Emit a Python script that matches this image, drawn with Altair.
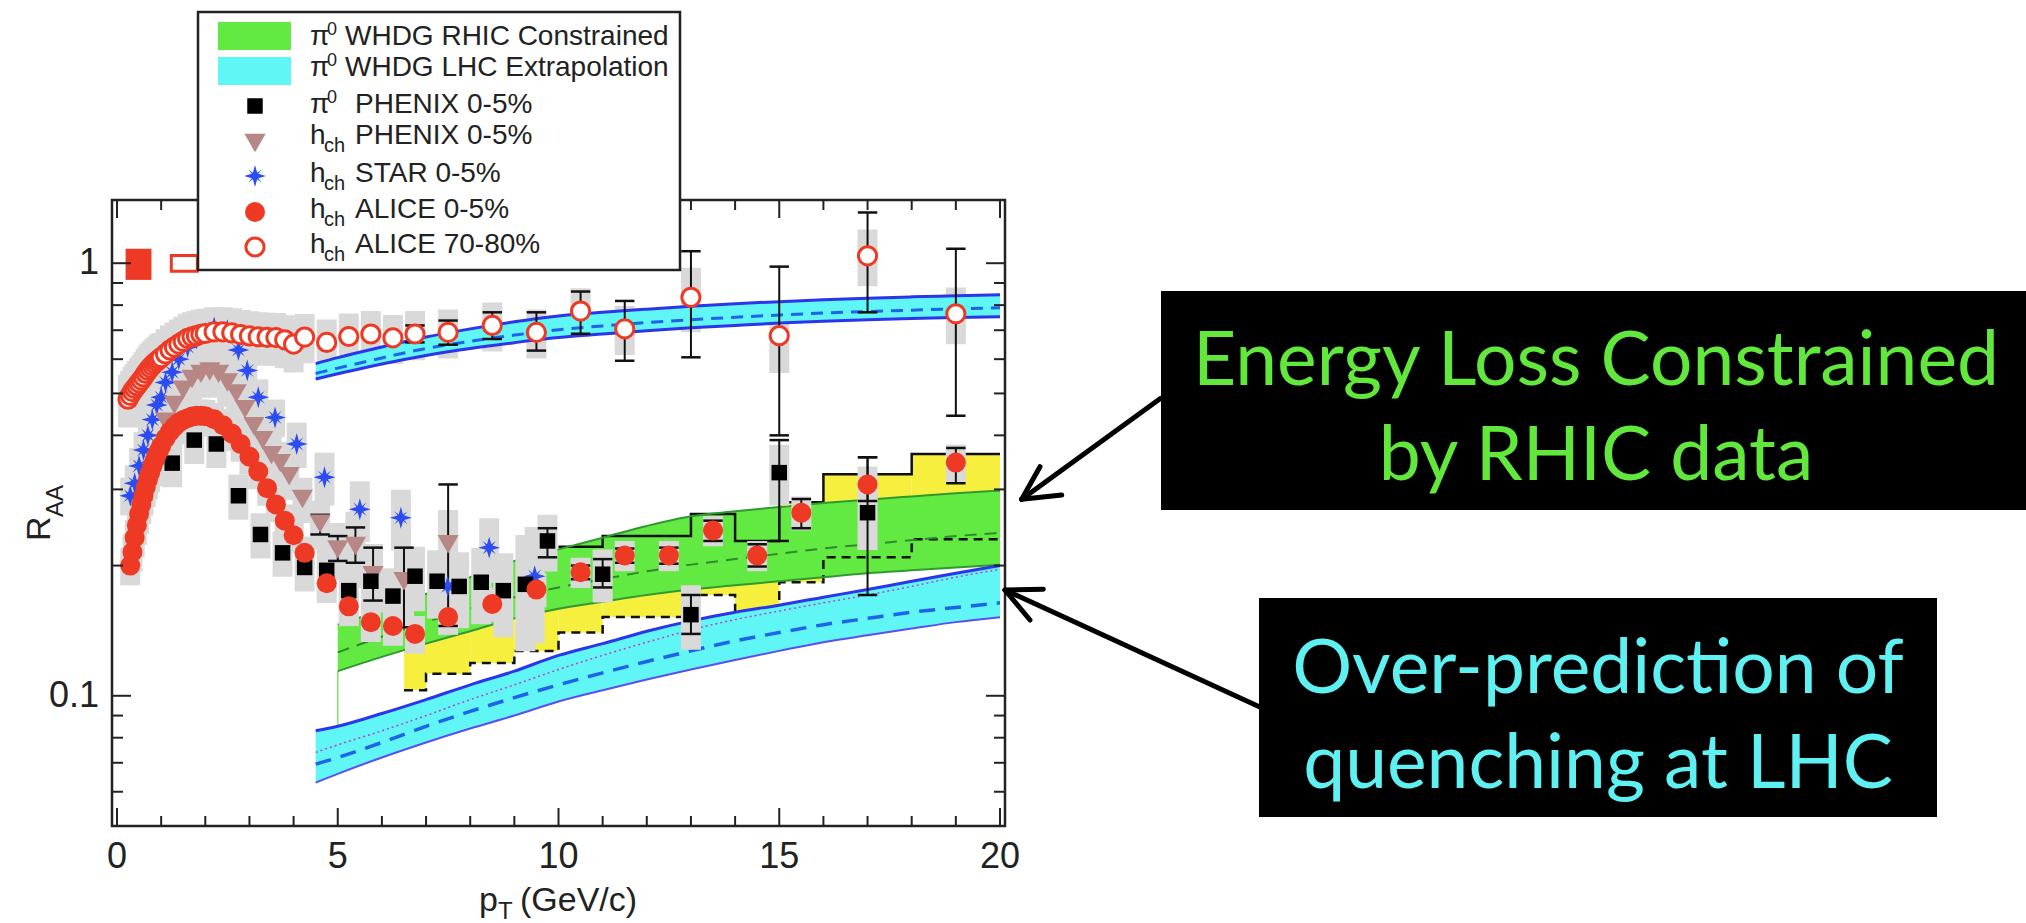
import altair as alt
import pandas as pd

FONT = "Liberation Sans, Arial, Helvetica, sans-serif"
ANN_FONT = "Lato, Open Sans, sans-serif"

# ---------------- data ----------------
# h_ch ALICE 0-5 %
alice_c_pt = [0.3, 0.35, 0.4, 0.45, 0.5, 0.55, 0.6, 0.65, 0.7, 0.75, 0.8, 0.85, 0.9, 0.95, 1.0,
              1.1, 1.2, 1.3, 1.4, 1.5, 1.6, 1.7, 1.8, 1.9, 2.0,
              2.2, 2.4, 2.6, 2.8, 3.0, 3.2, 3.4, 3.6, 3.8, 4.0,
              4.25, 4.75, 5.25, 5.75, 6.25, 6.75, 7.5, 8.5, 9.5,
              10.5, 11.5, 12.5, 13.5, 14.5, 15.5, 17.0, 19.0]
alice_c_val = [0.200, 0.215, 0.232, 0.248, 0.263, 0.277, 0.290, 0.303, 0.316, 0.328, 0.339, 0.350, 0.360, 0.369, 0.378,
               0.394, 0.408, 0.419, 0.428, 0.434, 0.438, 0.442, 0.444, 0.444, 0.443,
               0.436, 0.422, 0.404, 0.382, 0.357, 0.330, 0.302, 0.277, 0.254, 0.235,
               0.214, 0.182, 0.161, 0.148, 0.145, 0.139, 0.152, 0.163, 0.176,
               0.193, 0.211, 0.211, 0.241, 0.211, 0.265, 0.308, 0.346]
alice_c_sys = [0.10, 0.10, 0.10, 0.10, 0.10, 0.10, 0.10, 0.10, 0.10, 0.10, 0.10, 0.10, 0.10, 0.10, 0.10,
               0.09, 0.09, 0.09, 0.09, 0.09, 0.09, 0.09, 0.09, 0.09, 0.09,
               0.09, 0.09, 0.09, 0.09, 0.09, 0.09, 0.09, 0.09, 0.09, 0.09,
               0.09, 0.10, 0.10, 0.10, 0.10, 0.10, 0.09, 0.09, 0.09,
               0.08, 0.08, 0.08, 0.08, 0.08, 0.09, 0.10, 0.10]
alice_c_err_pt = [10.5, 11.5, 12.5, 13.5, 14.5, 15.5, 17.0, 19.0]
alice_c_err_lo = [0.186, 0.203, 0.202, 0.228, 0.199, 0.244, 0.282, 0.310]
alice_c_err_hi = [0.200, 0.219, 0.220, 0.254, 0.224, 0.285, 0.356, 0.374]

# h_ch ALICE 70-80 %
alice_p_pt = [0.25, 0.3, 0.35, 0.4, 0.45, 0.5, 0.55, 0.6, 0.65, 0.7, 0.75, 0.8, 0.85, 0.9, 0.95, 1.0,
              1.1, 1.2, 1.3, 1.4, 1.5, 1.6, 1.7, 1.8, 1.9, 2.0,
              2.2, 2.4, 2.6, 2.8, 3.0, 3.2, 3.4, 3.6, 3.8, 4.0,
              4.25, 4.75, 5.25, 5.75, 6.25, 6.75, 7.5, 8.5, 9.5,
              10.5, 11.5, 13.0, 15.0, 17.0, 19.0]
alice_p_val = [0.485, 0.495, 0.505, 0.513, 0.521, 0.529, 0.537, 0.546, 0.556, 0.565, 0.573, 0.580, 0.587, 0.593, 0.599, 0.605,
               0.617, 0.630, 0.640, 0.650, 0.660, 0.670, 0.676, 0.680, 0.685, 0.688,
               0.694, 0.694, 0.690, 0.684, 0.679, 0.676, 0.674, 0.673, 0.665, 0.650,
               0.675, 0.656, 0.677, 0.686, 0.672, 0.686, 0.692, 0.718, 0.692,
               0.775, 0.705, 0.834, 0.680, 1.040, 0.764]
alice_p_sys = [0.14, 0.14, 0.14, 0.14, 0.14, 0.14, 0.14, 0.14, 0.14, 0.14, 0.14, 0.14, 0.14, 0.14, 0.14, 0.14,
               0.14, 0.14, 0.14, 0.14, 0.14, 0.14, 0.14, 0.14, 0.14, 0.14,
               0.14, 0.14, 0.14, 0.14, 0.14, 0.14, 0.14, 0.14, 0.14, 0.14,
               0.13, 0.13, 0.13, 0.13, 0.13, 0.13, 0.13, 0.13, 0.13,
               0.13, 0.13, 0.17, 0.18, 0.15, 0.15]
alice_p_err_pt = [6.75, 7.5, 8.5, 9.5, 10.5, 11.5, 13.0, 15.0, 17.0, 19.0]
alice_p_err_lo = [0.656, 0.648, 0.668, 0.628, 0.687, 0.595, 0.606, 0.400, 0.770, 0.444]
alice_p_err_hi = [0.718, 0.737, 0.770, 0.770, 0.860, 0.818, 1.066, 0.982, 1.310, 1.080]

# pi0 PHENIX 0-5 %
pi0_pt = [1.25, 1.75, 2.25, 2.75, 3.25, 3.75, 4.25, 4.75, 5.25, 5.75, 6.25, 6.75, 7.25, 7.75, 8.25, 8.75,
          9.25, 9.75, 11.0, 13.0, 15.0, 17.0]
pi0_val = [0.345, 0.390, 0.382, 0.290, 0.236, 0.214, 0.198, 0.195, 0.175, 0.184, 0.170, 0.189, 0.184, 0.179,
           0.183, 0.175, 0.181, 0.228, 0.191, 0.154, 0.328, 0.265]
pi0_sys = [0.12, 0.12, 0.12, 0.12, 0.12, 0.12, 0.12, 0.13, 0.14, 0.15, 0.16, 0.17, 0.18, 0.20, 0.20, 0.22,
           0.30, 0.15, 0.14, 0.17, 0.16, 0.18]
pi0_err_pt = [9.75, 11.0, 13.0, 15.0, 17.0]
pi0_err_lo = [0.209, 0.178, 0.139, 0.228, 0.171]
pi0_err_hi = [0.244, 0.207, 0.171, 0.390, 0.356]

# h_ch PHENIX 0-5 %
phx_pt = [1.1, 1.3, 1.5, 1.7, 1.9, 2.1, 2.3, 2.5, 2.7, 2.9, 3.1, 3.3, 3.5, 3.7, 3.9, 4.2,
          4.6, 5.0, 5.4, 5.8, 6.5, 7.5]
phx_val = [0.430, 0.470, 0.510, 0.540, 0.555, 0.562, 0.555, 0.530, 0.500, 0.460, 0.420, 0.390, 0.360, 0.345,
           0.322, 0.285, 0.250, 0.218, 0.222, 0.190, 0.184, 0.224]
phx_sys = [0.12, 0.12, 0.12, 0.12, 0.12, 0.12, 0.12, 0.12, 0.12, 0.12, 0.12, 0.12, 0.12, 0.12, 0.12, 0.12,
           0.13, 0.15, 0.20, 0.18, 0.20, 0.20]
phx_err_pt = [4.6, 5.0, 5.4, 5.8, 6.5, 7.5]
phx_err_lo = [0.236, 0.205, 0.203, 0.166, 0.144, 0.145]
phx_err_hi = [0.262, 0.234, 0.245, 0.220, 0.220, 0.308]

# h_ch STAR 0-5 %
star_pt = [0.3, 0.4, 0.5, 0.6, 0.7, 0.8, 0.9, 1.0, 1.1, 1.25, 1.4, 1.6, 1.8, 2.0, 2.2, 2.5, 2.75, 2.95, 3.2, 3.58,
           4.07, 4.7, 5.5, 6.43, 7.49, 8.43, 9.46]
star_val = [0.290, 0.310, 0.340, 0.370, 0.400, 0.435, 0.470, 0.490, 0.530, 0.560, 0.600, 0.640, 0.670, 0.690,
            0.710, 0.700, 0.630, 0.565, 0.490, 0.440, 0.382, 0.320, 0.270, 0.258, 0.179, 0.220, 0.189]
star_sys = [0.10, 0.10, 0.10, 0.10, 0.10, 0.10, 0.10, 0.10, 0.10, 0.10, 0.10, 0.10, 0.10, 0.10, 0.10, 0.10,
            0.10, 0.10, 0.10, 0.10, 0.12, 0.14, 0.16, 0.16, 0.15, 0.17, 0.30]

# ALICE normalisation boxes at R_AA = 1
norm_x0 = [0.195, 1.23]
norm_x1 = [0.78, 1.82]
norm_lo = [0.915, 0.958]
norm_hi = [1.08, 1.042]

# WHDG RHIC constrained (green band)
green_pt = [5, 6, 7, 8, 9, 10, 11, 12, 13, 14, 15, 16, 17, 18, 19, 20]
green_hi = [0.146, 0.158, 0.172, 0.188, 0.205, 0.218, 0.232, 0.247, 0.260, 0.267, 0.273, 0.279, 0.284, 0.289, 0.294, 0.298]
green_lo = [0.114, 0.123, 0.132, 0.141, 0.151, 0.159, 0.165, 0.171, 0.176, 0.180, 0.184, 0.188, 0.192, 0.195, 0.198, 0.201]
green_mid = [0.126, 0.137, 0.148, 0.159, 0.169, 0.178, 0.186, 0.194, 0.201, 0.207, 0.213, 0.219, 0.224, 0.229, 0.234, 0.238]
green_stub_pt = [5.0]
green_stub_lo = [0.084]
green_stub_hi = [0.114]

# stepped yellow band
yel_x0 = [6.5, 7, 8, 9, 10, 11, 13, 14, 15, 16, 18]
yel_x1 = [7, 8, 9, 10, 11, 13, 14, 15, 16, 18, 20]
yel_lo = [0.103, 0.1125, 0.119, 0.127, 0.140, 0.152, 0.171, 0.146, 0.183, 0.209, 0.230]
yel_hi = [0.150, 0.160, 0.172, 0.190, 0.221, 0.234, 0.263, 0.228, 0.280, 0.325, 0.362]

# WHDG LHC extrapolation, central (cyan band)
cyan_pt = [4.5, 5, 6, 7, 8, 9, 10, 11, 12, 13, 14, 15, 16, 17, 18, 19, 20]
cyan_hi = [0.083, 0.085, 0.091, 0.098, 0.106, 0.114, 0.124, 0.132, 0.141, 0.149, 0.156, 0.162, 0.169, 0.176, 0.184, 0.192, 0.200]
cyan_lo = [0.063, 0.066, 0.072, 0.078, 0.084, 0.090, 0.097, 0.103, 0.109, 0.115, 0.121, 0.127, 0.133, 0.138, 0.143, 0.148, 0.152]
cyan_mid = [0.0695, 0.072, 0.078, 0.085, 0.092, 0.099, 0.106, 0.113, 0.120, 0.127, 0.134, 0.140, 0.146, 0.151, 0.156, 0.160, 0.164]
cyan_dot = [0.074, 0.077, 0.083, 0.090, 0.098, 0.106, 0.115, 0.124, 0.133, 0.142, 0.150, 0.157, 0.164, 0.171, 0.179, 0.188, 0.196]

# WHDG LHC extrapolation, peripheral (upper band)
per_pt = [4.5, 5, 6, 7, 8, 9, 10, 11, 12, 13, 14, 15, 16, 17, 18, 19, 20]
per_hi = [0.586, 0.605, 0.640, 0.675, 0.705, 0.732, 0.755, 0.770, 0.783, 0.795, 0.806, 0.815, 0.823, 0.830, 0.836, 0.841, 0.846]
per_lo = [0.540, 0.555, 0.585, 0.612, 0.635, 0.655, 0.673, 0.686, 0.698, 0.709, 0.718, 0.727, 0.734, 0.740, 0.745, 0.749, 0.752]
per_mid = [0.556, 0.572, 0.604, 0.635, 0.660, 0.682, 0.702, 0.716, 0.729, 0.740, 0.750, 0.759, 0.767, 0.773, 0.779, 0.784, 0.789]

# axis ticks and labels
x_major = [0, 5, 10, 15, 20]
x_major_labels = ["0", "5", "10", "15", "20"]
x_minor = [1, 2, 3, 4, 6, 7, 8, 9, 11, 12, 13, 14, 16, 17, 18, 19]
y_major = [0.1, 1.0]
y_major_labels = ["0.1", "1"]
y_minor = [0.06, 0.07, 0.08, 0.09, 0.2, 0.3, 0.4, 0.5, 0.6, 0.7, 0.8, 0.9]

# ---------------- styling ----------------
W, H = 893, 626
RED = "#ee3a24"
GREEN = "#63ea42"
CYAN = "#60f6f6"
YELLOW = "#f6ef3e"
GRAY = "#d9d9d9"
BROWN = "#b68784"
BLUE = "#2b4cf2"
AX = "#222222"
STAR_PATH = ("M0,-1L0.2,-0.3L0.6,-0.6L0.3,-0.2L1,0L0.3,0.2L0.6,0.6L0.2,0.3"
             "L0,1L-0.2,0.3L-0.6,0.6L-0.3,0.2L-1,0L-0.3,-0.2L-0.6,-0.6L-0.2,-0.3Z")

XS = alt.Scale(domain=[0, 20], nice=False, zero=False)
YS = alt.Scale(type="log", domain=[0.05, 1.4], nice=False)


def qx(f):
    return alt.X(f, type="quantitative", scale=XS, axis=None)


def qy(f):
    return alt.Y(f, type="quantitative", scale=YS, axis=None)


layers = []

# yellow stepped band
yel = pd.DataFrame({"x0": yel_x0, "x1": yel_x1, "lo": yel_lo, "hi": yel_hi})
layers.append(alt.Chart(yel).mark_rect(color=YELLOW, opacity=1).encode(
    x=qx("x0"), x2=alt.X2("x1"), y=qy("lo"), y2=alt.Y2("hi")))

# green band
grn = pd.DataFrame({"pt": green_pt, "lo": green_lo, "hi": green_hi, "mid": green_mid})
layers.append(alt.Chart(grn).mark_area(color=GREEN, interpolate="monotone", opacity=1).encode(
    x=qx("pt"), y=qy("lo"), y2=alt.Y2("hi")))
stub = pd.DataFrame({"pt": green_stub_pt, "lo": green_stub_lo, "hi": green_stub_hi})
layers.append(alt.Chart(stub).mark_rule(color="#7ee26a", strokeWidth=1.5).encode(
    x=qx("pt"), y=qy("lo"), y2=alt.Y2("hi")))

# yellow band edges (drawn above green)
low_step = pd.DataFrame({"pt": yel_x0 + [yel_x1[-1]], "v": yel_lo + [yel_lo[-1]]})
layers.append(alt.Chart(low_step).mark_line(interpolate="step-after", color="#111", strokeWidth=2.5,
                                             strokeDash=[9, 6]).encode(x=qx("pt"), y=qy("v")))
up_idx = [i for i, a in enumerate(yel_x0) if a >= 10]
up_step = pd.DataFrame({"pt": [yel_x0[i] for i in up_idx] + [yel_x1[-1]],
                        "v": [yel_hi[i] for i in up_idx] + [yel_hi[-1]]})
layers.append(alt.Chart(up_step).mark_line(interpolate="step-after", color="#111", strokeWidth=2.5).encode(
    x=qx("pt"), y=qy("v")))

# green band edges
for fld, dash, col, sw in [("hi", None, "#2f9a2f", 2), ("lo", None, "#2f9a2f", 2), ("mid", [12, 8], "#2f8a2f", 2)]:
    kw = dict(color=col, strokeWidth=sw, interpolate="monotone")
    if dash:
        kw["strokeDash"] = dash
    layers.append(alt.Chart(grn).mark_line(**kw).encode(x=qx("pt"), y=qy(fld)))

# cyan (central LHC) band
cy = pd.DataFrame({"pt": cyan_pt, "lo": cyan_lo, "hi": cyan_hi, "mid": cyan_mid, "dot": cyan_dot})
layers.append(alt.Chart(cy).mark_area(color=CYAN, interpolate="monotone", opacity=1).encode(
    x=qx("pt"), y=qy("lo"), y2=alt.Y2("hi")))
layers.append(alt.Chart(cy).mark_line(color="#2d35ea", strokeWidth=3, interpolate="monotone").encode(
    x=qx("pt"), y=qy("hi")))
layers.append(alt.Chart(cy).mark_line(color="#c040c8", strokeWidth=1.5, strokeDash=[2, 3],
                                      interpolate="monotone").encode(x=qx("pt"), y=qy("dot")))
layers.append(alt.Chart(cy).mark_line(color="#1f63ea", strokeWidth=3.5, strokeDash=[16, 10],
                                      interpolate="monotone").encode(x=qx("pt"), y=qy("mid")))
layers.append(alt.Chart(cy).mark_line(color="#5a4ff0", strokeWidth=2, interpolate="monotone").encode(
    x=qx("pt"), y=qy("lo")))


# gray systematic boxes
def sys_df(pt, val, rel):
    return pd.DataFrame({"pt": pt, "lo": [v * (1 - r) for v, r in zip(val, rel)],
                         "hi": [v * (1 + r) for v, r in zip(val, rel)]})


boxes = pd.concat([sys_df(alice_p_pt, alice_p_val, alice_p_sys),
                   sys_df(star_pt, star_val, star_sys),
                   sys_df(phx_pt, phx_val, phx_sys),
                   sys_df(pi0_pt, pi0_val, pi0_sys),
                   sys_df(alice_c_pt, alice_c_val, alice_c_sys)], ignore_index=True)
layers.append(alt.Chart(boxes).mark_bar(color=GRAY, size=20, opacity=1).encode(
    x=qx("pt"), y=qy("lo"), y2=alt.Y2("hi")))

# peripheral LHC band (above the gray boxes)
pb = pd.DataFrame({"pt": per_pt, "lo": per_lo, "hi": per_hi, "mid": per_mid})
layers.append(alt.Chart(pb).mark_area(color=CYAN, interpolate="monotone", opacity=1).encode(
    x=qx("pt"), y=qy("lo"), y2=alt.Y2("hi")))
layers.append(alt.Chart(pb).mark_line(color="#2d35ea", strokeWidth=3, interpolate="monotone").encode(
    x=qx("pt"), y=qy("hi")))
layers.append(alt.Chart(pb).mark_line(color="#2d35ea", strokeWidth=3, interpolate="monotone").encode(
    x=qx("pt"), y=qy("lo")))
layers.append(alt.Chart(pb).mark_line(color="#1f63ea", strokeWidth=3, strokeDash=[12, 8],
                                      interpolate="monotone").encode(x=qx("pt"), y=qy("mid")))

# statistical error bars
err = pd.concat([
    pd.DataFrame({"pt": alice_p_err_pt, "lo": alice_p_err_lo, "hi": alice_p_err_hi}),
    pd.DataFrame({"pt": alice_c_err_pt, "lo": alice_c_err_lo, "hi": alice_c_err_hi}),
    pd.DataFrame({"pt": pi0_err_pt, "lo": pi0_err_lo, "hi": pi0_err_hi}),
    pd.DataFrame({"pt": phx_err_pt, "lo": phx_err_lo, "hi": phx_err_hi})], ignore_index=True)
err["a"] = err["pt"] - 0.22
err["b"] = err["pt"] + 0.22
layers.append(alt.Chart(err).mark_rule(color="#111", strokeWidth=2).encode(
    x=qx("pt"), y=qy("lo"), y2=alt.Y2("hi")))
for fld in ["lo", "hi"]:
    layers.append(alt.Chart(err).mark_rule(color="#111", strokeWidth=2.5).encode(
        x=qx("a"), x2=alt.X2("b"), y=qy(fld)))

# normalisation boxes
nb = pd.DataFrame({"x0": norm_x0, "x1": norm_x1, "lo": norm_lo, "hi": norm_hi, "k": ["f", "o"]})
layers.append(alt.Chart(nb[nb.k == "f"]).mark_rect(color=RED, opacity=1).encode(
    x=qx("x0"), x2=alt.X2("x1"), y=qy("lo"), y2=alt.Y2("hi")))
layers.append(alt.Chart(nb[nb.k == "o"]).mark_rect(fill="white", stroke=RED, strokeWidth=3, opacity=1).encode(
    x=qx("x0"), x2=alt.X2("x1"), y=qy("lo"), y2=alt.Y2("hi")))

# data points
STYLE = {
    "star": dict(shape=STAR_PATH, filled=True, color=BLUE, size=480, opacity=1),
    "phx": dict(shape="triangle-down", filled=True, color=BROWN, size=450, opacity=1),
    "pi0": dict(shape="square", filled=True, color="#000", size=240, opacity=1),
    "alc": dict(shape="circle", filled=True, color=RED, size=400, opacity=1),
    "alp": dict(shape="circle", filled=True, fill="white", stroke=RED, strokeWidth=3, size=330, opacity=1),
}
for key, pt, val in [("star", star_pt, star_val), ("phx", phx_pt, phx_val), ("pi0", pi0_pt, pi0_val),
                     ("alc", alice_c_pt, alice_c_val), ("alp", alice_p_pt, alice_p_val)]:
    d = pd.DataFrame({"pt": pt, "v": val})
    layers.append(alt.Chart(d).mark_point(**STYLE[key]).encode(x=qx("pt"), y=qy("v")))


# inward ticks on all four sides
def xticks(vals, length):
    d = pd.DataFrame({"v": vals})
    return [alt.Chart(d).mark_rule(color=AX, strokeWidth=2).encode(x=qx("v"), y=alt.value(H), y2=alt.value(H - length)),
            alt.Chart(d).mark_rule(color=AX, strokeWidth=2).encode(x=qx("v"), y=alt.value(0), y2=alt.value(length))]


def yticks(vals, length):
    d = pd.DataFrame({"v": vals})
    return [alt.Chart(d).mark_rule(color=AX, strokeWidth=2).encode(y=qy("v"), x=alt.value(0), x2=alt.value(length)),
            alt.Chart(d).mark_rule(color=AX, strokeWidth=2).encode(y=qy("v"), x=alt.value(W), x2=alt.value(W - length))]


layers += xticks(x_major, 18) + xticks(x_minor, 10) + yticks(y_major, 19) + yticks(y_minor, 11)

# tick labels through the scales
xl = pd.DataFrame({"v": x_major, "t": x_major_labels})
layers.append(alt.Chart(xl).mark_text(font=FONT, fontSize=36, color=AX, align="center", baseline="alphabetic").encode(
    x=qx("v"), y=alt.value(H + 42), text="t:N"))
yl = pd.DataFrame({"v": y_major, "t": y_major_labels})
layers.append(alt.Chart(yl).mark_text(font=FONT, fontSize=36, color=AX, align="right", baseline="middle").encode(
    y=qy("v"), x=alt.value(-13), text="t:N"))

# ---------------- legend, titles, annotations ----------------
one = pd.DataFrame({"k": [0]})


def rect(x0, x1, y0, y1, **kw):
    return alt.Chart(one).mark_rect(opacity=1, **kw).encode(
        x=alt.value(x0), x2=alt.value(x1), y=alt.value(y0), y2=alt.value(y1))


def text(s, x, y, size, color=AX, font=FONT, align="left", angle=0):
    return alt.Chart(one).mark_text(text=s, fontSize=size, color=color, font=font, align=align,
                                    baseline="alphabetic", angle=angle).encode(x=alt.value(x), y=alt.value(y))


def line(x0, y0, x1, y1, w=5):
    return alt.Chart(one).mark_rule(color="#000", strokeWidth=w, strokeCap="round").encode(
        x=alt.value(x0), x2=alt.value(x1), y=alt.value(y0), y2=alt.value(y1))


# legend box
layers.append(rect(86, 568, -188, 70, fill="white", stroke=AX, strokeWidth=2.5))
layers.append(rect(106, 179, -178, -150, fill=GREEN))
layers.append(rect(106, 179, -143, -115, fill=CYAN))
for key, yy in [("pi0", -94), ("phx", -57), ("star", -24), ("alc", 12), ("alp", 47)]:
    layers.append(alt.Chart(one).mark_point(**STYLE[key]).encode(x=alt.value(143), y=alt.value(yy)))

LEG = 28
legend_rows = [("pi", -155, 233, "WHDG RHIC Constrained"),
               ("pi", -124, 233, "WHDG LHC Extrapolation"),
               ("pi", -87, 243, "PHENIX 0-5%"),
               ("h", -56, 243, "PHENIX 0-5%"),
               ("h", -18, 243, "STAR 0-5%"),
               ("h", 18, 243, "ALICE 0-5%"),
               ("h", 53, 243, "ALICE 70-80%")]
for kind, base, tx, label in legend_rows:
    if kind == "pi":
        layers.append(text("π", 198, base, LEG))
        layers.append(text("0", 215, base - 10, 18))
    else:
        layers.append(text("h", 198, base, LEG))
        layers.append(text("ch", 212, base + 8, 20))
    layers.append(text(label, tx, base, LEG))

# axis titles
layers.append(text("p", 367, 711, 34))
layers.append(text("T", 386, 719, 24))
layers.append(text("(GeV/c)", 408, 711, 34))
layers.append(text("R", -62, 341, 34, angle=270))
layers.append(text("AA", -49, 317, 24, angle=270))

# annotation boxes
layers.append(rect(1049, 1914, 91, 310, fill="#000"))
layers.append(text("Energy Loss Constrained", 1484, 185, 75, color="#62e83c", font=ANN_FONT, align="center"))
layers.append(text("by RHIC data", 1484, 280, 75, color="#62e83c", font=ANN_FONT, align="center"))
layers.append(rect(1147, 1825, 398, 617, fill="#000"))
layers.append(text("Over-prediction of", 1486, 493, 75, color="#5ff0f2", font=ANN_FONT, align="center"))
layers.append(text("quenching at LHC", 1486, 588, 75, color="#5ff0f2", font=ANN_FONT, align="center"))

# arrows
layers.append(line(1048.7, 198.3, 909.7, 299.3))
layers.append(line(909.7, 299.3, 928, 266.7))
layers.append(line(909.7, 299.3, 949.7, 295))
layers.append(line(1147.3, 506.7, 893, 390))
layers.append(line(893, 390, 931.3, 389.3))
layers.append(line(893, 390, 918, 420))

chart = alt.layer(*layers).properties(
    width=W, height=H,
    padding={"left": 112, "top": 200, "right": 1021, "bottom": 97},
    autosize=alt.AutoSizeParams(type="none"),
    background="white",
).configure_view(stroke=AX, strokeWidth=2.5)

chart.save("out.html", embed_options={"renderer": "svg", "actions": False})
